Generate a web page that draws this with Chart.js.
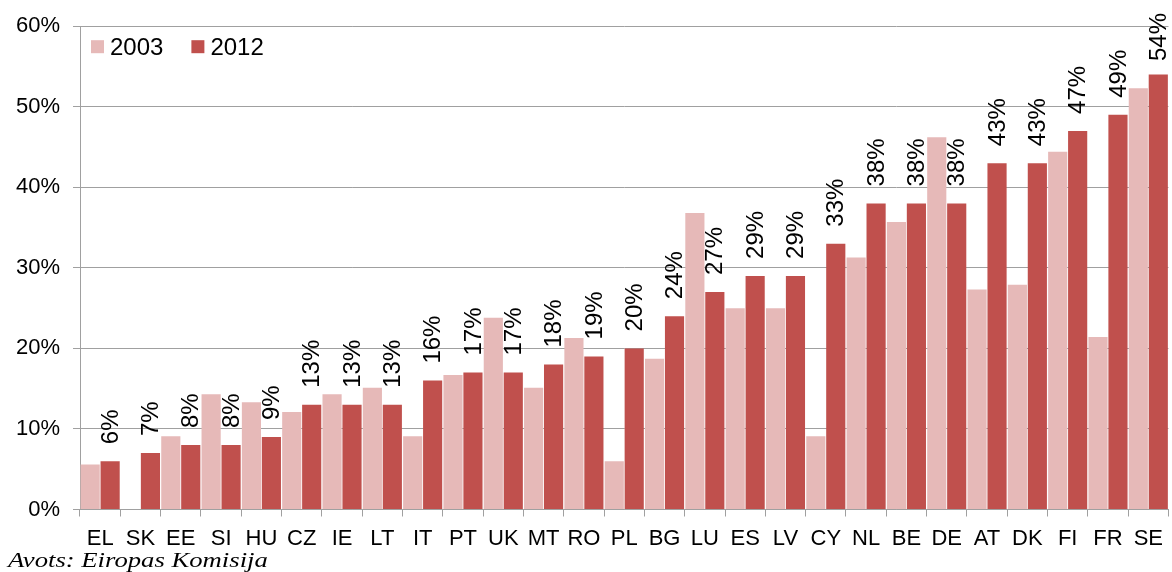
<!DOCTYPE html>
<html>
<head>
<meta charset="utf-8">
<script src="https://cdn.jsdelivr.net/npm/chart.js@4.4.1/dist/chart.umd.min.js"></script>
<style>
  html, body { margin: 0; padding: 0; background: #fff; }
  #wrap { position: relative; width: 1172px; height: 572px; }
  #src { position: absolute; left: 8px; top: 550px; font: italic 21px/21px "Liberation Serif", "Times New Roman", serif; color: #000; white-space: nowrap; transform: scaleX(1.27); transform-origin: 0 0; }
</style>
</head>
<body>
<div id="wrap">
  <canvas id="c" width="1172" height="572"></canvas>
  <div id="src">Avots: Eiropas Komisija</div>
</div>
<script>
const categories = ['EL','SK','EE','SI','HU','CZ','IE','LT','IT','PT','UK','MT','RO','PL','BG','LU','ES','LV','CY','NL','BE','DE','AT','DK','FI','FR','SE'];
const values2003 = [5.6, null, 9.1, 14.3, 13.3, 12.1, 14.3, 15.1, 9.1, 16.7, 23.8, 15.1, 21.3, 6.0, 18.7, 36.8, 25.0, 25.0, 9.1, 31.3, 35.7, 46.2, 27.3, 27.9, 44.4, 21.4, 52.3];
const values2012 = [6, 7, 8, 8, 9, 13, 13, 13, 16, 17, 17, 18, 19, 20, 24, 27, 29, 29, 33, 38, 38, 38, 43, 43, 47, 49, 54];
const yTicks = [0, 10, 20, 30, 40, 50, 60];
const seriesNames = ['2003', '2012'];
const seriesColors = ['#E6B9B8', '#C0504D'];

const valueLabels = {
  id: 'valueLabels',
  afterDatasetsDraw(chart) {
    const ctx = chart.ctx;
    const meta = chart.getDatasetMeta(1);
    const ds = chart.data.datasets[1];
    ctx.save();
    ctx.font = '24px "Liberation Sans", Arial, sans-serif';
    ctx.fillStyle = '#000';
    ctx.textAlign = 'left';
    ctx.textBaseline = 'middle';
    meta.data.forEach((el, i) => {
      const v = ds.data[i];
      if (v == null) return;
      const txt = Math.round(v) + '%';
      const w = ctx.measureText(txt).width;
      let start = el.y - 17;
      if (start - w < 13) start = 13 + w;
      ctx.save();
      ctx.translate(el.x, start);
      ctx.rotate(-Math.PI / 2);
      ctx.fillText(txt, 0, 1);
      ctx.restore();
    });
    ctx.restore();
  }
};

const insideLegend = {
  id: 'insideLegend',
  afterDraw(chart) {
    const ctx = chart.ctx;
    const area = chart.chartArea;
    ctx.save();
    ctx.font = '24px "Liberation Sans", Arial, sans-serif';
    ctx.textAlign = 'left';
    ctx.textBaseline = 'alphabetic';
    let x = area.left + 11;
    const boxTop = area.top + 14;
    chart.data.datasets.forEach(ds => {
      ctx.fillStyle = ds.backgroundColor;
      ctx.fillRect(x, boxTop, 13, 13);
      ctx.fillStyle = '#000';
      ctx.fillText(ds.label, x + 19, boxTop + 15);
      x += 19 + ctx.measureText(ds.label).width + 28;
    });
    ctx.restore();
  }
};

new Chart(document.getElementById('c'), {
  type: 'bar',
  data: {
    labels: categories,
    datasets: [
      { label: seriesNames[0], data: values2003, backgroundColor: seriesColors[0], borderWidth: 0 },
      { label: seriesNames[1], data: values2012, backgroundColor: seriesColors[1], borderWidth: 0 }
    ]
  },
  options: {
    responsive: false,
    animation: false,
    layout: { padding: { top: 23, right: 1, left: 0, bottom: 0 } },
    datasets: { bar: { categoryPercentage: 0.99, barPercentage: 0.96 } },
    plugins: {
      legend: { display: false },
      tooltip: { enabled: false },
      title: { display: false }
    },
    scales: {
      x: {
        grid: { display: true, drawOnChartArea: false, drawTicks: true, tickLength: 7, color: '#A0A0A0', offset: true },
        border: { display: true, color: '#A0A0A0' },
        ticks: { color: '#000', padding: 9, maxRotation: 0, autoSkip: false, font: { family: '"Liberation Sans", Arial, sans-serif', size: 22 } },
        afterFit(s) { s.height = 62.5; }
      },
      y: {
        min: 0, max: 60,
        afterBuildTicks(s) { s.ticks = yTicks.map(v => ({ value: v })); },
        grid: { color: '#A0A0A0', tickLength: 7, drawTicks: true },
        border: { display: true, color: '#A0A0A0' },
        ticks: { color: '#000', padding: 13, callback: v => v + '%', font: { family: '"Liberation Sans", Arial, sans-serif', size: 22 } },
        afterFit(s) { s.width = 80; }
      }
    }
  },
  plugins: [valueLabels, insideLegend]
});
</script>
</body>
</html>
